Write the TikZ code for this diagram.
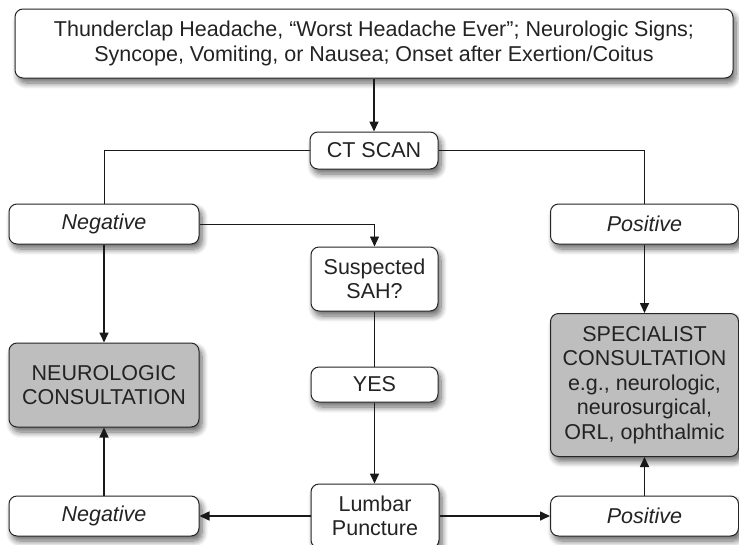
\documentclass[tikz,border=0pt]{standalone}
\usepackage{fontspec}
\setmainfont{Liberation Sans}
\usetikzlibrary{arrows.meta,shadows.blur}
\definecolor{ccgris}{RGB}{190,190,190}
\definecolor{cctexte}{RGB}{35,35,35}

\begin{document}
\begin{tikzpicture}[x=1pt,y=-1pt]

  % Styles
  \tikzstyle{boite} = [draw=black!85, line width=1pt, rounded corners=8pt, fill=white,
    inner sep=0pt, align=center, text=cctexte, font=\fontsize{21.5}{24.5}\selectfont,
    blur shadow={shadow xshift=3pt, shadow yshift=-5pt, shadow blur steps=8,
      shadow blur radius=6pt, shadow opacity=60}]
  \tikzstyle{boitegrise} = [boite, fill=ccgris]
  \tikzstyle{fleche} = [-{Triangle[length=10pt,width=9pt]}, line width=1.6pt, black!90]
  \tikzstyle{trait} = [line width=1.6pt, black!90]
  \tikzstyle{lien} = [line width=0.9pt, black!90]

  \useasboundingbox (0,0) rectangle (739,544);

  % Liste des boxes
  \node[boite, minimum width=718pt, minimum height=69pt] (signes) at (374,43.5)
    {Thunderclap Headache, “Worst Headache Ever”; Neurologic Signs;\\
     Syncope, Vomiting, or Nausea; Onset after Exertion/Coitus};
  \node[boite, minimum width=128pt, minimum height=37pt] (ct) at (374,150.5) {CT SCAN};
  \node[boite, minimum width=190pt, minimum height=40pt] (neg1) at (104,224) {\itshape Negative};
  \node[boite, minimum width=188pt, minimum height=40pt] (pos1) at (644.5,224) {\itshape Positive};
  \node[boite, minimum width=127pt, minimum height=64pt] (sah) at (374.5,279) {Suspected\\SAH?};
  \node[boitegrise, minimum width=190pt, minimum height=84pt] (neuro) at (104,385)
    {NEUROLOGIC\\CONSULTATION};
  \node[boitegrise, minimum width=188pt, minimum height=143pt] (spec) at (644.5,385)
    {SPECIALIST\\CONSULTATION\\e.g., neurologic,\\neurosurgical,\\ORL, ophthalmic};
  \node[boite, minimum width=127pt, minimum height=35pt] (yes) at (374.5,384.5) {YES};
  \node[boite, minimum width=128pt, minimum height=64pt] (lp) at (375,516) {Lumbar\\Puncture};
  \node[boite, minimum width=190pt, minimum height=40pt] (neg2) at (104,516) {\itshape Negative};
  \node[boite, minimum width=188pt, minimum height=40pt] (pos2) at (644.5,516) {\itshape Positive};

  % Signes -> CT
  \draw[fleche] (signes.south -| ct.north) -- (ct.north);
  % CT -> Negative / Positive
  \draw[lien] (ct.west) -| (neg1.north);
  \draw[lien] (ct.east) -| (pos1.north);
  % Negative -> SAH ?
  \draw[lien, -{Triangle[length=10pt,width=9pt]}] (neg1.east) -| (sah.north);
  \draw[fleche] (neg1.south) -- (neuro.north);
  \draw[fleche] (pos1.south) -- (spec.north);
  % SAH -> YES -> PL
  \draw[trait] (sah.south) -- (yes.north);
  \draw[fleche] (yes.south) -- (yes.south |- lp.north);
  % PL -> resultats
  \draw[fleche] (lp.west) -- (neg2.east);
  \draw[fleche] (lp.east) -- (pos2.west);
  \draw[fleche] (neg2.north) -- (neuro.south);
  \draw[fleche] (pos2.north) -- (spec.south);

\end{tikzpicture}
\end{document}
